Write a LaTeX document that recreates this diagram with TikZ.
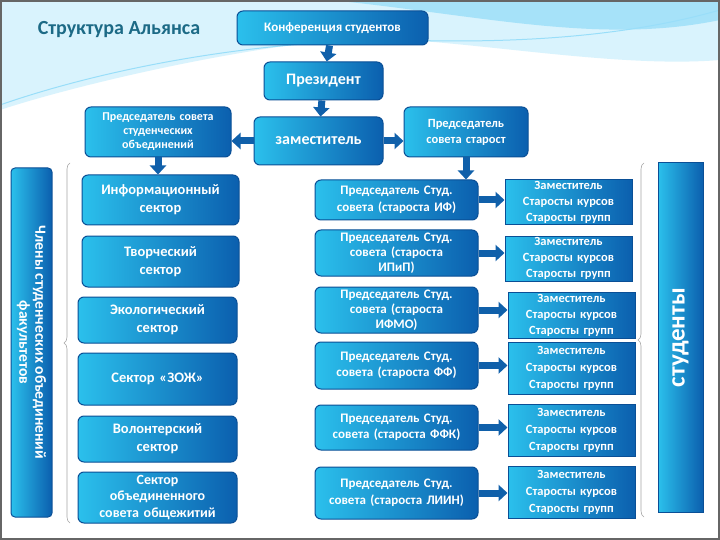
\documentclass[tikz,border=0pt]{standalone}
\usepackage{fontspec}
\setmainfont{Carlito}
\usetikzlibrary{arrows.meta,decorations.pathreplacing}
\definecolor{bcyan}{HTML}{2BC0EC}
\definecolor{bdark}{HTML}{0B5FAE}
\definecolor{bline}{HTML}{0A4F96}
\definecolor{arr}{HTML}{1060AA}
\definecolor{ttl}{HTML}{1C6A86}
\begin{document}
\begin{tikzpicture}[x=1pt,y=-1pt,
  box/.style={rounded corners=6pt,draw=bline,line width=1pt,left color=bcyan,right color=bdark,
    text=white,font=\bfseries,align=center,inner sep=1pt},
  sbox/.style={box,rounded corners=0pt},
  barrow/.style={draw=arr,line width=7pt,-{Triangle[width=16pt,length=9pt]}},
  br/.style={draw=gray!70,line width=0.6pt,decorate,decoration={brace,amplitude=6pt}}]
\useasboundingbox (0,0) rectangle (720,540);
% background
\fill[white] (0,0) rectangle (720,540);
\fill[cyan!15] (0,0) -- (720,0) -- (720,60) .. controls (600,70) and (420,30) .. (330,40)
  .. controls (200,55) and (60,90) .. (0,110) -- cycle;
\fill[cyan!35] (330,0) -- (720,0) -- (720,20) .. controls (600,45) and (480,15) .. (330,0);
\draw[cyan!40,line width=1pt] (0,105) .. controls (100,70) and (250,40) .. (400,40) .. controls (550,45) and (650,30) .. (720,10);
\draw[gray!80!black,line width=1.2pt] (1,1) rectangle (719,539);
\node[text=ttl,font=\bfseries\fontsize{20}{22}\selectfont] (title) at (119,30) {Структура Альянса};
% top
\node[box,minimum width=191pt,minimum height=34pt,font=\bfseries\fontsize{13}{15}\selectfont] (conf) at (332.5,28) {Конференция студентов};
\node[box,minimum width=119pt,minimum height=38pt,font=\bfseries\fontsize{16}{18}\selectfont] (pres) at (323.5,81) {Президент};
\node[box,minimum width=146pt,minimum height=50pt,text width=142pt,font=\bfseries\fontsize{12}{14}\selectfont] (psso) at (158,132) {Председатель совета\\студенческих\\объединений};
\node[box,minimum width=129pt,minimum height=48pt,font=\bfseries\fontsize{16}{18}\selectfont] (zam) at (318.5,141) {заместитель};
\node[box,minimum width=124pt,minimum height=50pt,text width=120pt,font=\bfseries\fontsize{12.5}{16}\selectfont] (pss) at (466,132) {Председатель\\совета старост};
% side bars
\node[box,rounded corners=4pt,minimum height=41pt,minimum width=349pt,rotate=-90,font=\bfseries\fontsize{15.5}{16}\selectfont] (memb) at (31.5,342.5) {Члены студенческих объединений\\факультетов};
\node[sbox,minimum height=45pt,minimum width=349pt,rotate=90,font=\bfseries\fontsize{25}{25}\selectfont] (stud) at (680.5,337.5) {студенты};
% left column
\tikzset{lb/.style={box,font=\bfseries\fontsize{14.5}{18}\selectfont,text width=155pt}}
\node[lb,minimum width=153pt,minimum height=50pt] (l1) at (160.5,200) {Информационный\\сектор};
\node[lb,minimum width=153pt,minimum height=51pt] (l2) at (160.5,261.5) {Творческий\\сектор};
\node[lb,minimum width=159pt,minimum height=46pt] (l3) at (157.5,320) {Экологический\\сектор};
\node[lb,minimum width=159pt,minimum height=52pt] (l4) at (157.5,379) {Сектор «ЗОЖ»};
\node[lb,minimum width=159pt,minimum height=46pt] (l5) at (157.5,439) {Волонтерский\\сектор};
\node[lb,minimum width=159pt,minimum height=51pt,font=\bfseries\fontsize{14}{16.5}\selectfont] (l6) at (157.5,497.5) {Сектор\\объединенного\\совета общежитий};
% middle column
\tikzset{mb/.style={box,minimum width=163pt,font=\bfseries\fontsize{13}{16.5}\selectfont,text width=160pt}}
\node[mb,minimum height=40pt] (m1) at (396.5,200) {Председатель Студ.\\совета (староста ИФ)};
\node[mb,minimum height=46pt,font=\bfseries\fontsize{13}{15}\selectfont] (m2) at (396.5,253) {Председатель Студ.\\совета (староста\\ИПиП)};
\node[mb,minimum height=46pt,font=\bfseries\fontsize{13}{15}\selectfont] (m3) at (396.5,310) {Председатель Студ.\\совета (староста\\ИФМО)};
\node[mb,minimum height=47pt] (m4) at (396.5,365.5) {Председатель Студ.\\совета (староста ФФ)};
\node[mb,minimum height=45pt] (m5) at (396.5,427.5) {Председатель Студ.\\совета (староста ФФК)};
\node[mb,minimum height=52pt] (m6) at (396.5,493) {Председатель Студ.\\совета (староста ЛИИН)};
% right column
\tikzset{rb/.style={sbox,minimum width=127pt,font=\bfseries\fontsize{12.5}{16}\selectfont,text width=124pt}}
\node[rb,minimum height=45pt] (r1) at (568.5,202.5) {Заместитель\\Старосты курсов\\Старосты групп};
\node[rb,minimum height=45pt] (r2) at (568.5,258.5) {Заместитель\\Старосты курсов\\Старосты групп};
\node[rb,minimum height=46pt] (r3) at (571.5,315) {Заместитель\\Старосты курсов\\Старосты групп};
\node[rb,minimum height=52pt,font=\bfseries\fontsize{12.5}{17}\selectfont] (r4) at (571.5,368) {Заместитель\\Старосты курсов\\Старосты групп};
\node[rb,minimum height=52pt,font=\bfseries\fontsize{12.5}{17}\selectfont] (r5) at (571.5,430) {Заместитель\\Старосты курсов\\Старосты групп};
\node[rb,minimum height=52pt,font=\bfseries\fontsize{12.5}{17}\selectfont] (r6) at (571.5,492) {Заместитель\\Старосты курсов\\Старосты групп};
% arrows
\draw[barrow] (conf) -- (pres);
\draw[barrow] (pres) -- (zam);
\draw[barrow] (zam.west) -- (zam.west -| psso.east);
\draw[barrow] (zam.east) -- (zam.east -| pss.west);
\draw[barrow] (psso.south) -- (psso.south |- l1.north);
\draw[barrow] (pss.south) -- (pss.south |- m1.north);
\foreach \i in {1,...,6}{\draw[barrow] (m\i.east) -- (m\i.east -| r\i.west);}
% braces
\coordinate (lbt) at (70,163); \coordinate (lbb) at (70,523);
\draw[br] (lbb) -- (lbt);
\coordinate (rbt) at (644,163); \coordinate (rbb) at (644,517);
\draw[br] (rbb) -- (rbt);
\end{tikzpicture}
\end{document}
